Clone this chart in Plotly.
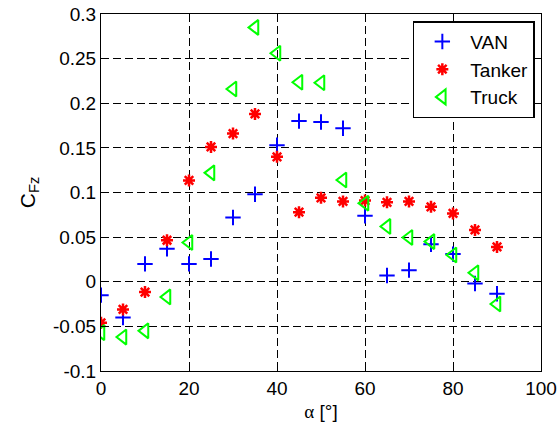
import plotly.graph_objects as go

alpha = [0, 5, 10, 15, 20, 25, 30, 35, 40, 45, 50, 55, 60, 65, 70, 75, 80, 85, 90]
van = [-0.015, -0.040, 0.020, 0.037, 0.020, 0.0255, 0.072, 0.098, 0.153, 0.180, 0.179, 0.172,
       0.074, 0.007, 0.013, 0.042, 0.031, -0.002, -0.0135]
tanker = [-0.046, -0.031, -0.0115, 0.0465, 0.1135, 0.151, 0.166, 0.188, 0.140, 0.078, 0.094, 0.090,
          0.091, 0.089, 0.090, 0.084, 0.0765, 0.058, 0.039]
truck = [-0.057, -0.062, -0.055, -0.017, 0.044, 0.122, 0.216, 0.285, 0.256, 0.2235, 0.223, 0.114,
         0.088, 0.062, 0.0495, 0.045, 0.030, 0.010, -0.025]

xticks = [0, 20, 40, 60, 80, 100]
xticktext = ["0", "20", "40", "60", "80", "100"]
yticks = [-0.1, -0.05, 0, 0.05, 0.1, 0.15, 0.2, 0.25, 0.3]
yticktext = ["-0.1", "-0.05", "0", "0.05", "0.1", "0.15", "0.2", "0.25", "0.3"]

FONT = "Liberation Sans, Arial, Helvetica, sans-serif"

fig = go.Figure()
fig.add_trace(go.Scatter(x=alpha, y=van, mode="markers", name="VAN",
                         marker=dict(symbol="cross-thin-open", size=11, color="#0000ff",
                                     line=dict(color="#0000ff", width=2))))
fig.add_trace(go.Scatter(x=alpha, y=tanker, mode="markers", name="Tanker",
                         marker=dict(symbol="asterisk-open", size=10, color="#ff0000",
                                     line=dict(color="#ff0000", width=2.5))))
fig.add_trace(go.Scatter(x=alpha, y=truck, mode="markers", name="Truck",
                         marker=dict(symbol="triangle-left-open", size=13, color="#00ff00",
                                     line=dict(color="#00ff00", width=2))))

axis_common = dict(
    showline=True, linecolor="black", linewidth=1, mirror="ticks",
    ticks="inside", ticklen=5, tickcolor="black", tickwidth=1,
    showgrid=True, gridcolor="black", gridwidth=1, griddash="8px,4px",
    zeroline=False, automargin=False,
    tickfont=dict(family=FONT, size=19, color="black"),
)

fig.update_layout(
    width=560, height=428,
    margin=dict(l=101, r=19, t=14, b=57),
    paper_bgcolor="white", plot_bgcolor="white",
    font=dict(family=FONT, size=18, color="black"),
    xaxis=dict(range=[0, 100], tickvals=xticks, ticktext=xticktext,
               title=dict(text="<span style='font-family:Liberation Serif,serif'>α</span> [°]",
                          font=dict(family=FONT, size=19), standoff=6),
               **axis_common),
    yaxis=dict(range=[-0.1, 0.3], tickvals=yticks, ticktext=yticktext,
               title=dict(text="C<sub>Fz</sub>", font=dict(family=FONT, size=21), standoff=11),
               **axis_common),
    legend=dict(x=0.986, y=0.98, xanchor="right", yanchor="top",
                bgcolor="white", bordercolor="black", borderwidth=1.5,
                font=dict(family=FONT, size=19, color="black"),
                itemwidth=46, tracegroupgap=0),
    showlegend=True,
)

fig.write_html("out.html")
